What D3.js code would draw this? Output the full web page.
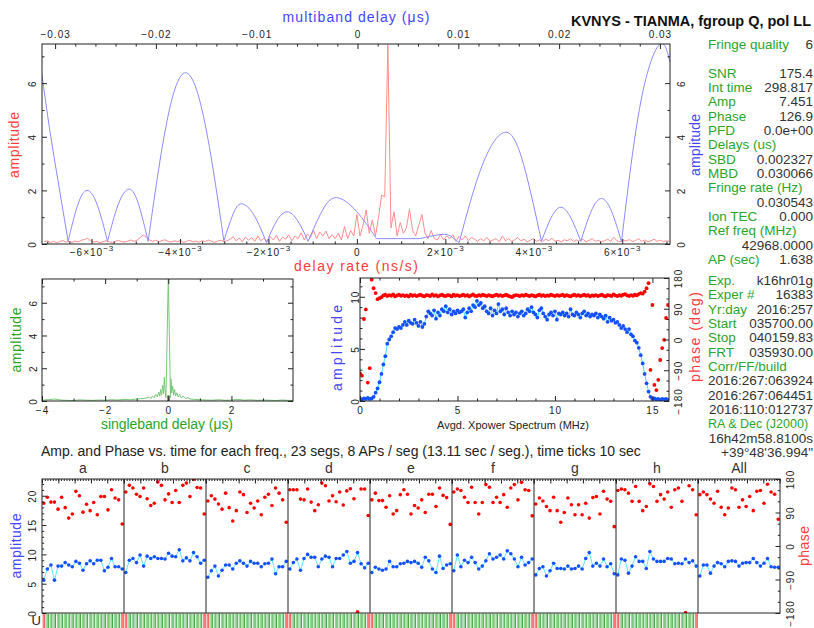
<!DOCTYPE html>
<html>
<head>
<meta charset="utf-8">
<script src="https://cdn.jsdelivr.net/npm/d3@7"></script>
<style>
body { margin: 0; background: #fff; }
svg { display: block; font-family: "Liberation Sans", Arial, sans-serif; }
</style>
</head>
<body>
<div id="chart"></div>
<script>
// ---- top panel: multiband delay function (blue), one lobe per array, [mbd (us), amplitude]
var mbdLobes = [
  [[-0.03135, 6.43], [-0.03053, 4.25], [-0.02964, 2.2], [-0.02871, 0.1]],
  [[-0.02871, 0.1], [-0.02776, 1.45], [-0.02682, 2.0], [-0.02581, 1.45], [-0.0248, 0.1]],
  [[-0.0248, 0.1], [-0.02373, 1.48], [-0.02266, 2.05], [-0.02172, 1.48], [-0.02077, 0.1]],
  [[-0.02077, 0.1], [-0.01892, 4.55], [-0.01706, 6.39], [-0.01516, 4.55], [-0.01326, 0.12]],
  [[-0.01326, 0.12], [-0.01238, 1.08], [-0.01151, 1.5], [-0.01027, 1.08], [-0.00903, 0.05]],
  [[-0.00903, 0.05], [-0.008, 0.87], [-0.00698, 1.2], [-0.00594, 0.87], [-0.0049, 0.1]],
  [[-0.0049, 0.1], [-0.00349, 1.25], [-0.00208, 1.73], [-0.0001, 1.22], [0.00188, 0.2]],
  [[0.00188, 0.2], [0.00618, 0.2]],
  [[0.00618, 0.2], [0.0074, 0.3], [0.00866, 0.36], [0.0094, 0.25], [0.01008, 0.05]],
  [[0.01008, 0.05], [0.0124, 2.96], [0.01471, 4.17], [0.01648, 2.96], [0.01825, 0.1]],
  [[0.01825, 0.1], [0.01921, 0.98], [0.02017, 1.37], [0.02116, 0.98], [0.02215, 0.1]],
  [[0.02215, 0.1], [0.02318, 1.22], [0.0242, 1.7], [0.0252, 1.22], [0.02619, 0.08]],
  [[0.02619, 0.08], [0.0281, 5.3], [0.02999, 7.45], [0.03098, 6.8]]
];

// ---- top panel: delay rate spectrum (red), sampled from rateStart in rateStep (ns/s)
var rateStart = -0.00707, rateStep = 0.00007;
var rateAmp = [
  0.08,0.12,0.06,0.1,0.05,0.09,0.13,0.07,0.1,0.06,
  0.11,0.08,0.14,0.17,0.21,0.12,0.07,0.1,0.05,0.09,
  0.12,0.08,0.06,0.1,0.13,0.09,0.07,0.11,0.15,0.1,
  0.14,0.24,0.33,0.27,0.15,0.1,0.14,0.08,0.12,0.16,
  0.1,0.07,0.12,0.09,0.13,0.06,0.1,0.14,0.08,0.11,
  0.07,0.12,0.09,0.15,0.1,0.06,0.11,0.14,0.09,0.12,
  0.18,0.27,0.12,0.22,0.08,0.26,0.14,0.24,0.1,0.3,
  0.12,0.22,0.08,0.28,0.15,0.32,0.1,0.26,0.18,0.34,
  0.12,0.3,0.2,0.42,0.15,0.38,0.25,0.5,0.2,0.45,
  0.3,0.48,0.2,0.35,0.2,0.4,0.15,0.65,0.2,0.5,
  0.3,1.1,0.3,0.7,1.27,0.4,0.9,0.3,1.0,1.83,
  1.75,7.45,0.6,1.2,0.3,0.8,0.4,0.6,1.3,0.5,
  0.3,0.7,1.1,0.4,0.2,0.5,0.2,0.15,0.35,0.15,
  0.3,0.2,0.35,0.1,0.28,0.15,0.3,0.12,0.25,0.18,
  0.1,0.2,0.12,0.25,0.1,0.15,0.2,0.08,0.3,0.12,
  0.2,0.1,0.16,0.24,0.12,0.18,0.08,0.14,0.2,0.1,
  0.15,0.09,0.18,0.12,0.22,0.1,0.14,0.08,0.16,0.12,
  0.2,0.09,0.15,0.11,0.18,0.08,0.13,0.2,0.1,0.14,
  0.08,0.12,0.18,0.1,0.25,0.12,0.08,0.15,0.11,0.17,
  0.09,0.13,0.2,0.1,0.15,0.08,0.12,0.18,0.1,0.14,
  0.09,0.12,0.1
];

// ---- singleband delay function (green), [sbd (us), amplitude]
var sbdCurve = [
  [-4, 0.05], [-3.8, 0.08], [-3.6, 0.12], [-3.4, 0.06], [-3.2, 0.04], [-3.0, 0.03], [-2.8, 0.07],
  [-2.6, 0.05], [-2.4, 0.04], [-2.2, 0.06], [-2.0, 0.05], [-1.8, 0.08], [-1.6, 0.06], [-1.4, 0.1],
  [-1.2, 0.08], [-1.0, 0.12], [-0.8, 0.15], [-0.7, 0.18], [-0.6, 0.25], [-0.55, 0.15], [-0.5, 0.3],
  [-0.45, 0.2], [-0.4, 0.4], [-0.35, 0.25], [-0.3, 0.55], [-0.27, 0.3], [-0.24, 0.7], [-0.21, 0.35],
  [-0.18, 0.95], [-0.15, 0.45], [-0.126, 1.45], [-0.1, 0.6], [-0.075, 0.2], [-0.05, 2.5], [-0.025, 5.2],
  [0, 7.45], [0.025, 5.0], [0.05, 2.3], [0.07, 0.2], [0.085, 1.35], [0.11, 0.5], [0.14, 0.9],
  [0.17, 0.35], [0.2, 0.7], [0.23, 0.3], [0.27, 0.5], [0.31, 0.25], [0.36, 0.4], [0.41, 0.2],
  [0.47, 0.3], [0.55, 0.15], [0.62, 0.2], [0.7, 0.12], [0.8, 0.1], [1.0, 0.08], [1.2, 0.06],
  [1.4, 0.05], [1.6, 0.08], [1.8, 0.04], [2.0, 0.06], [2.2, 0.1], [2.4, 0.05], [2.6, 0.07],
  [2.8, 0.04], [3.0, 0.06], [3.2, 0.05], [3.4, 0.03], [3.6, 0.06], [3.8, 0.04], [3.95, 0.03]
];
var sbdValue = 0.002327;

// ---- cross power spectrum, one value per freqStep MHz
var freqStep = 0.1;
var specAmp = [
  0.2,0.15,0.25,0.2,0.3,0.2,0.25,0.4,0.8,1.2,1.8,
  2.6,3.5,4.3,5.5,5.9,6.2,6.6,7.0,6.9,7.1,
  7.0,7.3,7.6,7.3,7.7,7.5,7.4,7.8,7.5,7.2,
  7.6,7.1,7.4,8.1,8.6,8.4,8.2,8.7,7.9,8.5,
  8.2,8.8,8.6,9.1,8.5,8.8,8.3,8.6,8.4,8.7,
  8.5,8.6,8.8,8.0,8.5,8.9,8.6,9.2,9.0,9.6,
  9.2,9.4,8.9,9.1,8.6,8.4,8.9,8.2,8.7,8.4,
  9.3,8.6,8.8,8.3,8.9,8.5,8.2,8.6,8.3,8.5,
  8.1,8.4,8.6,8.2,8.4,8.8,8.6,9.0,8.5,8.3,
  8.0,8.7,8.9,8.4,8.1,7.8,8.3,8.5,8.2,8.6,
  7.8,8.4,8.3,8.5,8.2,8.4,8.1,8.8,8.3,8.2,
  8.5,8.3,8.0,8.4,8.6,8.2,8.4,8.1,8.3,8.2,
  8.4,8.0,8.3,8.1,7.9,8.2,7.6,8.0,7.7,7.8,
  7.5,7.6,7.3,7.0,7.2,6.9,6.6,6.9,6.4,6.2,
  5.8,5.6,5.1,4.4,3.6,2.6,1.7,0.9,0.4,0.2,
  0.25,0.15,0.2,0.1,0.2,0.15,0.2,0.1
];
var specPhase = [
  -99,-106,60,88,-126,-84,175,150,136,118,121,
  124,129,131,127,130,128,132,126,129,131,
  128,130,127,129,126,131,128,130,127,129,
  131,128,126,130,129,127,132,128,130,126,
  129,131,128,127,130,129,126,131,128,130,
  127,129,131,128,130,126,129,132,128,127,
  130,128,131,129,127,130,128,126,129,131,
  128,130,127,129,131,128,126,124,128,130,
  129,127,130,128,131,129,127,130,128,126,
  129,131,128,130,127,129,128,131,129,127,
  130,128,129,131,127,130,128,126,129,131,
  128,130,127,129,131,128,130,126,129,128,
  130,127,129,131,128,126,130,129,127,132,
  129,127,130,128,131,133,129,127,130,128,
  131,129,133,136,134,140,
  150,165,-89,101,-133,-148,-118,-60,-25,-1,63,101
];

// ---- amplitude / phase vs time per channel, 23 segments each
var channels = ["a", "b", "c", "d", "e", "f", "g", "h", "All"];
var nSegs = 23, segSec = 13.11;
var segAmp = [
  [5.6,7.5,8.2,5.6,8.0,8.0,8.6,8.2,7.9,8.8,8.5,7.3,8.4,8.9,8.4,9.0,9.0,7.2,7.8,9.3,7.9,7.9,7.5],
  [6.9,9.0,9.3,8.6,9.9,8.0,9.7,9.3,9.6,9.3,9.3,9.2,10.2,9.7,9.6,10.8,8.9,9.4,8.9,10.3,9.6,8.5,9.0],
  [6.1,7.2,8.0,6.3,7.3,8.2,8.2,7.5,8.5,8.9,8.5,8.0,8.8,8.5,8.5,7.9,8.4,8.5,9.2,6.7,7.9,7.9,8.8],
  [7.5,8.6,9.2,7.3,9.3,10.0,9.5,9.5,7.9,9.2,9.7,9.5,7.9,9.3,9.3,9.9,10.5,8.5,8.8,10.3,8.4,7.7,8.5],
  [6.9,7.8,7.5,7.3,7.5,8.8,7.9,7.9,8.4,8.5,8.8,8.6,8.8,8.5,7.8,9.5,8.9,7.5,6.9,9.7,7.6,8.2,8.4],
  [7.2,9.9,7.9,9.0,8.6,9.5,8.6,7.5,8.0,8.9,10.1,9.2,9.5,9.9,9.2,10.6,10.1,9.2,7.9,9.5,8.2,8.6,9.2],
  [6.5,7.6,7.9,6.3,7.2,8.5,7.6,7.6,7.5,8.0,7.5,7.6,8.0,7.5,9.3,10.3,8.0,8.5,8.0,9.2,7.9,8.4,6.7],
  [6.5,9.2,9.0,6.8,8.0,9.6,8.8,8.8,7.6,10.5,9.2,8.8,8.8,8.8,9.3,9.2,8.4,8.5,8.4,9.2,8.6,8.9,8.0],
  [6.3,8.2,8.2,6.8,8.0,8.6,8.4,7.9,8.8,8.9,8.8,8.0,8.5,8.6,8.6,9.3,8.6,8.0,8.5,9.3,7.9,7.8,7.8]
];
var segPhase = [
  [115,131,118,118,99,131,103,75,86,147,135,91,112,95,117,84,133,133,97,151,129,124,59],
  [145,163,156,139,133,156,127,109,115,172,163,124,140,117,149,117,163,169,133,179,157,156,86],
  [121,135,126,113,99,142,103,67,95,145,138,90,115,102,121,84,131,139,109,156,142,124,64],
  [151,151,151,126,124,153,118,95,111,169,162,121,135,119,145,110,148,154,127,-177,153,153,82],
  [124,142,122,122,104,135,86,95,138,151,139,86,109,102,124,90,139,139,106,156,136,130,58],
  [145,153,149,131,117,158,117,86,117,165,158,117,131,117,138,104,156,165,124,171,151,149,81],
  [113,129,121,106,95,131,95,64,90,129,111,84,111,84,115,75,130,133,86,147,126,120,52],
  [149,153,151,142,120,160,120,95,106,167,160,120,138,126,145,104,151,156,120,-179,162,151,84],
  [138,145,138,126,115,147,104,84,102,156,151,104,124,106,133,95,147,149,115,166,145,139,72]
];

// ---- tick values and labels
var mbdTicks = [-0.03, -0.02, -0.01, 0, 0.01, 0.02, 0.03];
var mbdLabels = ["\u22120.03", "\u22120.02", "\u22120.01", "0", "0.01", "0.02", "0.03"];
var rateTicks = [-0.006, -0.004, -0.002, 0, 0.002, 0.004, 0.006];
var rateMant = ["\u22126", "\u22124", "\u22122", "0", "2", "4", "6"];
var rateExp = "\u22123";
var ampTicks1 = [0, 2, 4, 6];
var sbdTicks = [-4, -2, 0, 2];
var sbdLabels = ["\u22124", "\u22122", "0", "2"];
var freqTicks = [0, 5, 10, 15];
var specAmpTicks = [0, 5, 10];
var phaseTicks = [-180, -90, 0, 90, 180];
var phaseLabels = ["\u2212180", "\u221290", "0", "90", "180"];
var segAmpTicks = [0, 5, 10, 15, 20];

// ---- fringe summary text
var infoLabelsA = ["Fringe quality", "", "SNR", "Int time", "Amp", "Phase", "PFD", "Delays (us)", "SBD", "MBD",
                   "Fringe rate (Hz)", "", "Ion TEC", "Ref freq (MHz)", "", "AP (sec)"];
var infoValuesA = ["6", "", "175.4", "298.817", "7.451", "126.9", "0.0e+00", "", "0.002327", "0.030066",
                   "", "0.030543", "0.000", "", "42968.0000", "1.638"];
var infoLabelsB = ["Exp.", "Exper #", "Yr:day", "Start", "Stop", "FRT", "Corr/FF/build", "", "", "",
                   "RA & Dec (J2000)", "", ""];
var infoValuesB = ["k16hr01g", "16383", "2016:257", "035700.00", "040159.83", "035930.00", "",
                   "2016:267:063924", "2016:267:064451", "2016:110:012737", "", "16h42m58.8100s", "+39\u00b048'36.994\""];

var W = 814, H = 628;
var RED = "#ff3c3c", BLUE = "#4545ff", GREEN = "#2aa52a", INK = "#222";

var svg = d3.select("#chart").append("svg").attr("width", W).attr("height", H);

var p1 = {left: 42, right: 670, top: 44, bottom: 244};
var p2 = {left: 42, right: 293, top: 279, bottom: 401};
var p3 = {left: 360, right: 669, top: 278, bottom: 401};
var p4 = {left: 42, right: 780, top: 479, bottom: 613};

function clipFor(id, p) {
  svg.append("clipPath").attr("id", id).append("rect")
    .attr("x", p.left).attr("y", p.top).attr("width", p.right - p.left).attr("height", p.bottom - p.top);
  return "url(#" + id + ")";
}

function frame(p) {
  svg.append("rect").attr("x", p.left).attr("y", p.top)
    .attr("width", p.right - p.left).attr("height", p.bottom - p.top)
    .attr("fill", "none").attr("stroke", INK).attr("stroke-width", 1);
}

// inward ticks from a d3 axis, optional labels
function ticks(orient, scale, at, values, len, labels) {
  var maker = {top: d3.axisTop, bottom: d3.axisBottom, left: d3.axisLeft, right: d3.axisRight}[orient];
  var ax = maker(scale).tickValues(values).tickSizeInner(-len).tickSizeOuter(0)
    .tickFormat(function(d, i) { return labels ? labels[i] : ""; });
  var tr = (orient == "top" || orient == "bottom") ? "translate(0," + at + ")" : "translate(" + at + ",0)";
  var g = svg.append("g").attr("transform", tr).call(ax);
  g.select(".domain").remove();
  g.attr("font-family", null).attr("font-size", 10);
  g.selectAll(".tick line").attr("stroke", INK);
  g.selectAll(".tick text").attr("fill", INK).attr("letter-spacing", 1);
  return g;
}

function hLabels(g, y) {
  g.selectAll(".tick text").attr("y", y).attr("dy", 0);
}

function vLabels(g, off) {
  g.selectAll(".tick text").attr("transform", "rotate(-90)")
    .attr("x", 0).attr("y", off).attr("dy", 0).attr("text-anchor", "middle");
}

function title(x, y, str, color, len, vertical, size) {
  var t = svg.append("text").attr("text-anchor", "middle").attr("fill", color)
    .attr("font-size", size || 14).text(str);
  if (len) t.attr("textLength", len).attr("lengthAdjust", "spacing");
  if (vertical) t.attr("transform", "translate(" + x + "," + y + ") rotate(-90)");
  else t.attr("x", x).attr("y", y);
  return t;
}

function range(a, b, s) { return d3.range(a, b + s / 2, s); }
function minors(a, b, s, majors) {
  return range(a, b, s).filter(function(v) {
    return !majors.some(function(m) { return Math.abs(m - v) < s / 10; });
  });
}

// ================= top panel =================
var mbdX = d3.scaleLinear().domain([-0.0313, 0.031]).range([p1.left, p1.right]);
var rateX = d3.scaleLinear().domain([-0.00712, 0.00708]).range([p1.left, p1.right]);
var ampY1 = d3.scaleLinear().domain([0, 7.46]).range([p1.bottom, p1.top]);
var clip1 = clipFor("c1", p1);

var rateLine = d3.line()
  .x(function(d, i) { return rateX(rateStart + i * rateStep); })
  .y(function(d) { return ampY1(d); });
svg.append("path").attr("clip-path", clip1).attr("d", rateLine(rateAmp))
  .attr("fill", "none").attr("stroke", "#ff8c8c").attr("stroke-width", 1);

var lobeLine = d3.line()
  .x(function(d) { return mbdX(d[0]); })
  .y(function(d) { return ampY1(d[1]); })
  .curve(d3.curveNatural);
svg.append("g").attr("clip-path", clip1).selectAll("path").data(mbdLobes).join("path")
  .attr("d", lobeLine).attr("fill", "none").attr("stroke", "#8c8cff").attr("stroke-width", 1);

frame(p1);
hLabels(ticks("top", mbdX, p1.top, mbdTicks, 5, mbdLabels), -6.5);
ticks("top", mbdX, p1.top, minors(-0.03, 0.03, 0.002, mbdTicks), 2.5);
var gRate = ticks("bottom", rateX, p1.bottom, rateTicks, 5, rateMant);
hLabels(gRate, 11.5);
gRate.selectAll(".tick text").each(function(d, i) {
  var t = d3.select(this).text("");
  t.append("tspan").text(rateMant[i]);
  if (d !== 0) {
    t.append("tspan").text("\u00d710");
    t.append("tspan").attr("dy", -5).attr("font-size", 8).text(rateExp);
  }
});
ticks("bottom", rateX, p1.bottom, minors(-0.007, 0.007, 0.0005, rateTicks), 2.5);
vLabels(ticks("left", ampY1, p1.left, ampTicks1, 5, ampTicks1), -6.5);
ticks("left", ampY1, p1.left, [1, 3, 5, 7], 2.5);
vLabels(ticks("right", ampY1, p1.right, ampTicks1, 5, ampTicks1), 14.5);
ticks("right", ampY1, p1.right, [1, 3, 5, 7], 2.5);

title(356, 22, "multiband delay (\u03bcs)", BLUE, 147);
title(356, 271, "delay rate (ns/s)", RED, 124);
title(19, 145, "amplitude", RED, 66, true);
title(700, 145, "amplitude", BLUE, 62, true);

svg.append("text").attr("x", 811).attr("y", 25.5).attr("text-anchor", "end")
  .attr("font-size", 14.5).attr("font-weight", "bold").attr("fill", "#111")
  .text("KVNYS - TIANMA, fgroup Q, pol LL");

// ================= singleband delay =================
var sbdX = d3.scaleLinear().domain([-4, 3.95]).range([p2.left, p2.right]);
var ampY2 = d3.scaleLinear().domain([0, 7.45]).range([p2.bottom, p2.top]);
var clip2 = clipFor("c2", p2);
svg.append("path").attr("clip-path", clip2)
  .attr("d", d3.line().x(function(d) { return sbdX(d[0]); }).y(function(d) { return ampY2(d[1]); })(sbdCurve))
  .attr("fill", "none").attr("stroke", "#78c878").attr("stroke-width", 1);
svg.append("rect").attr("x", sbdX(sbdValue) - 1.2).attr("width", 2.4)
  .attr("y", ampY2(0.35)).attr("height", ampY2(0) - ampY2(0.35)).attr("fill", "#777");

frame(p2);
hLabels(ticks("bottom", sbdX, p2.bottom, sbdTicks, 5, sbdLabels), 13);
ticks("bottom", sbdX, p2.bottom, [-3, -1, 1, 3], 2.5);
ticks("top", sbdX, p2.top, sbdTicks, 5);
ticks("top", sbdX, p2.top, [-3, -1, 1, 3], 2.5);
vLabels(ticks("left", ampY2, p2.left, ampTicks1, 5, ampTicks1), -5);
ticks("left", ampY2, p2.left, [1, 3, 5, 7], 2.5);
ticks("right", ampY2, p2.right, ampTicks1, 5);
ticks("right", ampY2, p2.right, [1, 3, 5, 7], 2.5);
title(167, 429, "singleband delay (\u03bcs)", GREEN, 132);
title(21, 340, "amplitude", GREEN, 65, true);

// ================= cross power spectrum =================
var freqX = d3.scaleLinear().domain([0, 15.85]).range([p3.left, p3.right]);
var ampY3 = d3.scaleLinear().domain([0, 11.8]).range([p3.bottom, p3.top]);
var phY3 = d3.scaleLinear().domain([-180, 180]).range([p3.bottom, p3.top]);
var clip3 = clipFor("c3", p3);
var g3 = svg.append("g").attr("clip-path", clip3);
g3.append("path")
  .attr("d", d3.line().x(function(d, i) { return freqX(i * freqStep); }).y(function(d) { return ampY3(d); })(specAmp))
  .attr("fill", "none").attr("stroke", "#3fdcff").attr("stroke-width", 1);
g3.selectAll("circle.amp").data(specAmp).join("circle").attr("class", "amp")
  .attr("cx", function(d, i) { return freqX(i * freqStep); }).attr("cy", function(d) { return ampY3(d); })
  .attr("r", 1.9).attr("fill", "#1450ff");
g3.selectAll("circle.ph").data(specPhase).join("circle").attr("class", "ph")
  .attr("cx", function(d, i) { return freqX(i * freqStep); }).attr("cy", function(d) { return phY3(d); })
  .attr("r", 1.9).attr("fill", "#ff0000");

frame(p3);
hLabels(ticks("bottom", freqX, p3.bottom, freqTicks, 5, freqTicks), 13);
ticks("bottom", freqX, p3.bottom, minors(0, 15, 1, freqTicks), 2.5);
ticks("top", freqX, p3.top, freqTicks, 5);
ticks("top", freqX, p3.top, minors(0, 15, 1, freqTicks), 2.5);
vLabels(ticks("left", ampY3, p3.left, specAmpTicks, 5, specAmpTicks), -1.5);
ticks("left", ampY3, p3.left, minors(0, 11, 1, specAmpTicks), 2.5);
vLabels(ticks("right", phY3, p3.right, phaseTicks, 5, phaseLabels), 13);
ticks("right", phY3, p3.right, minors(-180, 180, 30, phaseTicks), 2.5);
title(513, 429, "Avgd. Xpower Spectrum (MHz)", INK, 152, false, 11);
title(342, 348, "amplitude", BLUE, 86, true);
title(700, 337, "phase (deg)", RED, 90, true);

// ================= fringe summary =================
function infoBlock(labels, values, y0) {
  var g = svg.append("g").attr("font-size", 13.5);
  labels.forEach(function(s, i) {
    var y = y0 + i * 14.33;
    var t = g.append("text").attr("x", 708).attr("y", y).attr("fill", GREEN).text(s);
    var size = 13.5;
    while (size > 10 && 708 + t.node().getComputedTextLength() > 810) {
      size -= 0.5;
      t.attr("font-size", size);
    }
    g.append("text").attr("x", 813).attr("y", y).attr("text-anchor", "end").attr("fill", "#333").text(values[i]);
  });
}
infoBlock(infoLabelsA, infoValuesA, 49);
infoBlock(infoLabelsB, infoValuesB, 285);

// ================= amp / phase vs time =================
var chanX = d3.scaleBand().domain(channels).range([p4.left, p4.right]);
var bw = chanX.bandwidth();
var segX = d3.scaleBand().domain(d3.range(nSegs)).range([0, bw]);
var timeX = d3.scaleLinear().domain([0, nSegs * segSec]).range([0, bw]);
var ampY4 = d3.scaleLinear().domain([0, 22.86]).range([p4.bottom, p4.top]);
var phY4 = d3.scaleLinear().domain([-180, 180]).range([p4.bottom, p4.top]);

svg.append("text").attr("x", 41).attr("y", 456).attr("font-size", 14).attr("fill", INK)
  .text("Amp. and Phase vs. time for each freq., 23 segs, 8 APs / seg (13.11 sec / seg.), time ticks 10 sec");

var clip4 = clipFor("c4", p4);
channels.forEach(function(c, k) {
  var x0 = chanX(c);
  var sx = function(d, i) { return x0 + segX(i) + segX.bandwidth() / 2; };
  var g = svg.append("g").attr("clip-path", clip4);
  g.append("path").attr("d", d3.line().x(sx).y(function(d) { return ampY4(d); })(segAmp[k]))
    .attr("fill", "none").attr("stroke", "#5ce8ff").attr("stroke-width", 1);
  g.selectAll("circle.a").data(segAmp[k]).join("circle").attr("class", "a")
    .attr("cx", sx).attr("cy", function(d) { return ampY4(d); }).attr("r", 1.8).attr("fill", "#1450ff");
  g.selectAll("circle.p").data(segPhase[k]).join("circle").attr("class", "p")
    .attr("cx", sx).attr("cy", function(d) { return phY4(d); }).attr("r", 1.8).attr("fill", "#ff0000");

  svg.append("text").attr("x", x0 + bw / 2).attr("y", 473).attr("text-anchor", "middle")
    .attr("font-size", 14).attr("fill", "#333").text(c);

  var tg = svg.append("g").attr("transform", "translate(" + x0 + "," + p4.top + ")");
  tg.call(d3.axisTop(timeX).tickValues(range(0, 300, 10)).tickSizeInner(-2).tickSizeOuter(0).tickFormat(""));
  tg.call(function(s) { s.select(".domain").remove(); s.selectAll("line").attr("stroke", INK); });
  var tg2 = svg.append("g").attr("transform", "translate(" + x0 + "," + p4.top + ")");
  tg2.call(d3.axisTop(timeX).tickValues(range(0, 300, 60)).tickSizeInner(-4.5).tickSizeOuter(0).tickFormat(""));
  tg2.call(function(s) { s.select(".domain").remove(); s.selectAll("line").attr("stroke", INK); });

  if (k > 0) {
    svg.append("line").attr("x1", x0).attr("x2", x0).attr("y1", p4.top).attr("y2", p4.bottom)
      .attr("stroke", INK).attr("stroke-width", 1);
  }

  // segment validity strip
  if (c !== "All") {
    var strip = svg.append("g");
    d3.range(nSegs).forEach(function(i) {
      var edge = (i === 0 || i === nSegs - 1);
      var sx0 = x0 + segX(i);
      strip.append("rect").attr("x", sx0 + 0.6).attr("y", p4.bottom + 0.5).attr("width", 1.8).attr("height", H - p4.bottom)
        .attr("fill", edge ? "#ff8080" : "#95d895");
      strip.append("line").attr("x1", sx0 + 2.8).attr("x2", sx0 + 2.8).attr("y1", p4.bottom + 0.5).attr("y2", H)
        .attr("stroke", edge ? "#e83030" : "#2a9a2a").attr("stroke-width", 0.9);
    });
  }
});

frame(p4);
vLabels(ticks("left", ampY4, p4.left, segAmpTicks, 4.5, segAmpTicks), -6.5);
ticks("left", ampY4, p4.left, minors(0, 22, 1, segAmpTicks), 2.2);
vLabels(ticks("right", phY4, p4.right, phaseTicks, 4.5, phaseLabels), 13.5);
ticks("right", phY4, p4.right, minors(-180, 180, 30, phaseTicks), 2.2);
title(21, 546, "amplitude", BLUE, 65, true);
title(809, 546, "phase", RED, 40, true);

svg.append("text").attr("x", 41).attr("y", 625).attr("text-anchor", "end")
  .attr("font-size", 13).attr("fill", INK).text("U");
</script>
</body>
</html>
